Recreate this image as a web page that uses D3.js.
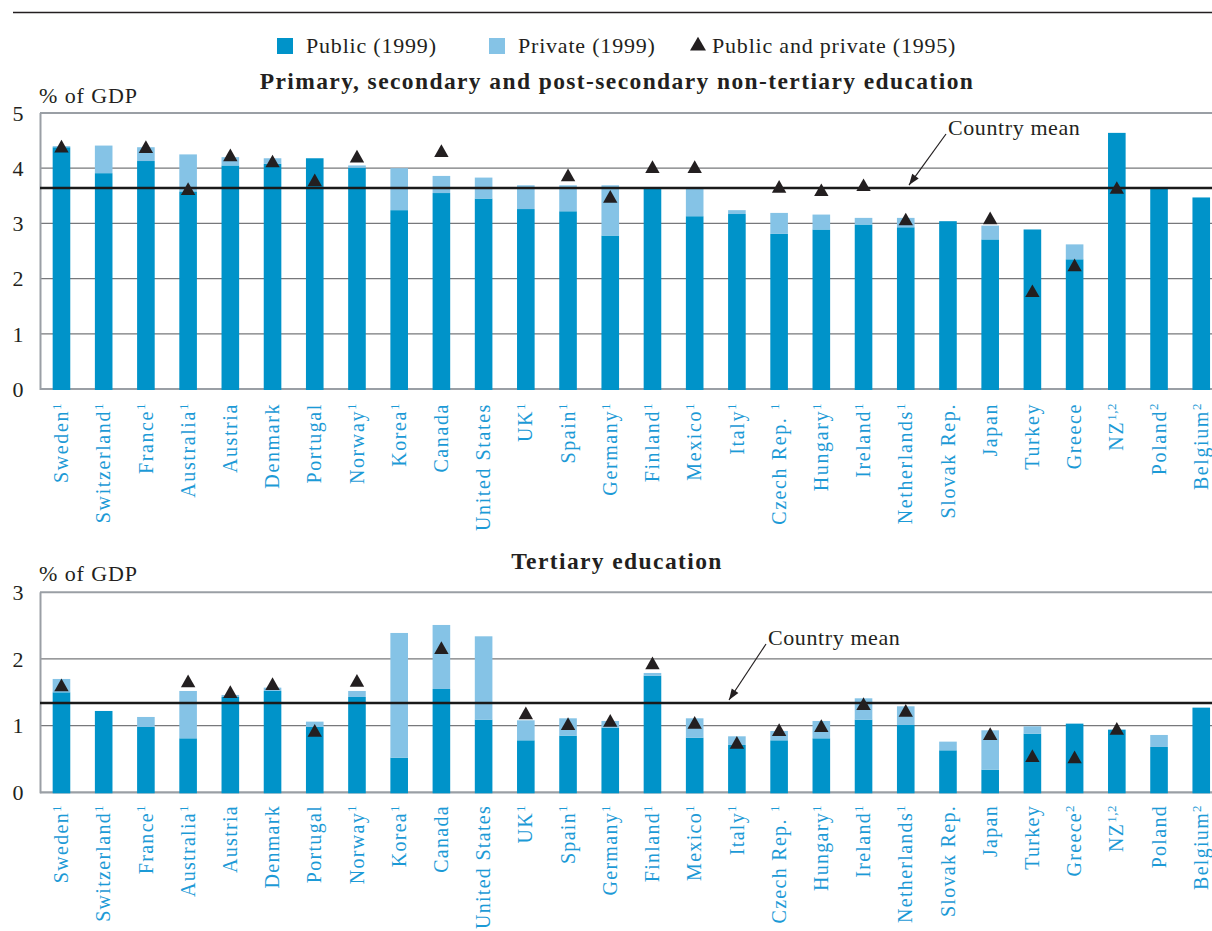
<!DOCTYPE html>
<html><head><meta charset="utf-8">
<script src="https://cdn.jsdelivr.net/npm/d3@7"></script>
<style>
body{margin:0;background:#fff;}
svg{display:block;}
svg text{font-family:"Liberation Serif","Times New Roman",serif;}
</style></head>
<body><svg id="chart" width="1212" height="931"></svg>
<script>
const countries = ["Sweden","Switzerland","France","Australia","Austria","Denmark","Portugal","Norway","Korea","Canada","United States","UK","Spain","Germany","Finland","Mexico","Italy","Czech Rep. ","Hungary","Ireland","Netherlands","Slovak Rep.","Japan","Turkey","Greece","NZ","Poland","Belgium"];
const notesTop = ["1","1","1","1","","","","1","1","","","1","1","1","1","1","1","1","1","1","1","","","","","1,2","2","2"];
const notesBottom = ["1","1","1","1","","","","1","1","","","1","1","1","1","1","1","1","1","1","1","","","","2","1,2","","2"];

// Primary, secondary and post-secondary non-tertiary
const topPublic  = [4.38,3.91,4.13,3.58,4.05,4.08,4.18,4.01,3.24,3.55,3.45,3.26,3.22,2.78,3.63,3.13,3.17,2.81,2.89,2.98,2.93,3.04,2.71,2.89,2.35,4.64,3.64,3.47];
const topPrivate = [0.02,0.50,0.25,0.67,0.15,0.10,0.00,0.04,0.76,0.31,0.38,0.43,0.47,0.91,0.00,0.50,0.07,0.38,0.27,0.12,0.17,0.00,0.25,0.00,0.27,0.00,0.00,0.00];
const top1995    = [4.40,null,4.39,3.63,4.24,4.13,3.79,4.22,null,4.32,null,null,3.88,3.49,4.03,4.03,null,3.67,3.61,3.70,3.08,null,3.10,1.78,2.25,3.65,null,null];
const topMean = 3.64;
const topTicks = [0,1,2,3,4,5];

// Tertiary
const botPublic  = [1.50,1.22,0.98,0.81,1.43,1.52,0.98,1.43,0.52,1.55,1.09,0.78,0.85,0.97,1.75,0.82,0.71,0.78,0.81,1.09,1.01,0.63,0.34,0.88,1.03,0.94,0.68,1.27];
const botPrivate = [0.20,0.00,0.15,0.71,0.03,0.05,0.08,0.09,1.87,0.96,1.25,0.30,0.26,0.10,0.04,0.29,0.13,0.14,0.26,0.32,0.28,0.13,0.59,0.11,0.00,0.00,0.18,0.00];
const bot1995    = [1.61,null,null,1.67,1.51,1.63,0.93,1.68,null,2.17,null,1.19,1.03,1.08,1.94,1.05,0.75,0.94,1.00,1.33,1.23,null,0.88,0.55,0.53,0.96,null,null];
const botMean = 1.34;
const botTicks = [0,1,2,3];

const legendLabels = ["Public (1999)","Private (1999)","Public and private (1995)"];
const titles = ["Primary, secondary and post-secondary non-tertiary education","Tertiary education"];

const C_PUB = "#0093c9", C_PRI = "#85c3e6", C_TXT = "#231f20", C_LAB = "#1c9ad6", C_GRID = "#77787b", C_FRAME = "#9a9fa5";
const svg = d3.select("#chart");

// top rule
svg.append("line").attr("x1",13).attr("x2",1212).attr("y1",12.5).attr("y2",12.5).attr("stroke",C_TXT).attr("stroke-width",1.3);

// legend
const lg = svg.append("g").attr("font-size",22).attr("fill",C_TXT).attr("letter-spacing",0.8);
lg.append("rect").attr("x",277).attr("y",38).attr("width",16).attr("height",16).attr("fill",C_PUB);
lg.append("text").attr("x",306).attr("y",53).text(legendLabels[0]);
lg.append("rect").attr("x",489).attr("y",38).attr("width",16).attr("height",16).attr("fill",C_PRI);
lg.append("text").attr("x",518).attr("y",53).text(legendLabels[1]);
lg.append("path").attr("d",d3.symbol(d3.symbolTriangle,110)()).attr("transform","translate(698,46)").attr("fill",C_TXT);
lg.append("text").attr("x",712).attr("y",53).text(legendLabels[2]);

const x = d3.scaleBand().domain(countries).range([40, 40+28*42.24]).paddingInner(0.583).paddingOuter(0.30);

function tri(cx, cy){
  const hw=7.2, h=12.7;
  return `M${cx-hw},${cy+h/2}L${cx},${cy-h/2}L${cx+hw},${cy+h/2}Z`;
}

function panel(o){
  const y = d3.scaleLinear().domain([0, o.max]).range([o.bottom, o.top]);
  const g = svg.append("g");
  // title
  g.append("text").attr("x",617).attr("y",o.titleY).attr("text-anchor","middle").attr("font-weight","bold")
    .attr("font-size",23.5).attr("letter-spacing",1.4).attr("fill",C_TXT).text(o.title);
  g.append("text").attr("x",39).attr("y",o.unitY).attr("font-size",22).attr("letter-spacing",0.9).attr("fill",C_TXT).text("% of GDP");
  // gridlines
  const inner = o.ticks.filter(t=>t>0 && t<o.max);
  g.selectAll(".grid").data(inner).join("line").attr("x1",40).attr("x2",1212)
    .attr("y1",d=>y(d)).attr("y2",d=>y(d)).attr("stroke",C_GRID).attr("stroke-width",1.2);
  // frame top
  g.append("line").attr("x1",40).attr("x2",1212).attr("y1",y(o.max)).attr("y2",y(o.max)).attr("stroke",C_FRAME).attr("stroke-width",2);
  // bottom axis
  g.append("line").attr("x1",40).attr("x2",1212).attr("y1",y(0)).attr("y2",y(0)).attr("stroke",C_FRAME).attr("stroke-width",2.2);
  // left axis
  g.append("line").attr("x1",40.5).attr("x2",40.5).attr("y1",y(o.max)).attr("y2",y(0)+1).attr("stroke",C_FRAME).attr("stroke-width",2);
  // tick labels
  g.selectAll(".tl").data(o.ticks).join("text").attr("x",18).attr("y",d=>y(d)).attr("dy","0.35em")
    .attr("text-anchor","middle").attr("font-size",22).attr("fill",C_TXT).text(d=>d);
  // bars
  g.selectAll(".pub").data(countries).join("rect").attr("x",d=>x(d)).attr("width",x.bandwidth())
    .attr("y",(d,i)=>y(o.pub[i])).attr("height",(d,i)=>y(0)-y(o.pub[i])+1).attr("fill",C_PUB);
  g.selectAll(".pri").data(countries).join("rect").attr("x",d=>x(d)).attr("width",x.bandwidth())
    .attr("y",(d,i)=>y(o.pub[i]+o.pri[i])).attr("height",(d,i)=>y(o.pub[i])-y(o.pub[i]+o.pri[i])).attr("fill",C_PRI);
  // mean line
  g.append("line").attr("x1",40).attr("x2",1212).attr("y1",y(o.mean)).attr("y2",y(o.mean)).attr("stroke","#1a1a1a").attr("stroke-width",2.6);
  // triangles
  g.selectAll(".tri").data(countries.map((c,i)=>({c,v:o.t95[i]})).filter(d=>d.v!=null)).join("path")
    .attr("d",d=>tri(x(d.c)+x.bandwidth()/2, y(d.v))).attr("fill",C_TXT);
  // country mean label with arrow
  g.append("text").attr("x",o.cmX).attr("y",o.cmY).attr("font-size",22).attr("letter-spacing",0.6).attr("fill",C_TXT).text("Country mean");
  const ax1=o.cmX-2, ay1=o.cmY-1, ax2=o.arX, ay2=y(o.mean)-3;
  g.append("line").attr("x1",ax1).attr("y1",ay1).attr("x2",ax2).attr("y2",ay2).attr("stroke",C_TXT).attr("stroke-width",1.2);
  const ang=Math.atan2(ay2-ay1, ax2-ax1), L=11, W=4;
  const bx=ax2-L*Math.cos(ang), by=ay2-L*Math.sin(ang);
  g.append("path").attr("d",`M${ax2},${ay2}L${bx+W*Math.sin(ang)},${by-W*Math.cos(ang)}L${bx-W*Math.sin(ang)},${by+W*Math.cos(ang)}Z`).attr("fill",C_TXT);
  // category labels
  const lab = g.selectAll(".lab").data(countries).join("text")
    .attr("transform",d=>`translate(${x(d)+x.bandwidth()/2},${o.labY}) rotate(-90)`)
    .attr("text-anchor","end").attr("dy","0.33em").attr("font-size",20).attr("letter-spacing",o.labLS).attr("fill",C_LAB);
  lab.append("tspan").text(d=>d);
  lab.append("tspan").attr("font-size",13).attr("dy","-0.55em").attr("letter-spacing",0.5).text((d,i)=>o.notes[i]);
}

panel({top:113, bottom:389, max:5, ticks:topTicks, pub:topPublic, pri:topPrivate, t95:top1995, mean:topMean,
  title:titles[0], titleY:89, unitY:103, notes:notesTop, labY:403, labLS:1.6, cmX:948, cmY:135, arX:909});
panel({top:592.3, bottom:792.3, max:3, ticks:botTicks, pub:botPublic, pri:botPrivate, t95:bot1995, mean:botMean,
  title:titles[1], titleY:569, unitY:581, notes:notesBottom, labY:805, labLS:1.3, cmX:768, cmY:645, arX:729});
</script></body></html>
